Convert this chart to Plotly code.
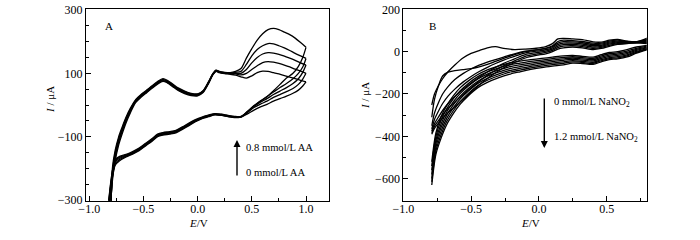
import plotly.graph_objects as go

# ---------------- Panel A : AA (0 ... 0.8 mmol/L) ----------------
A_labels = ["0", "0.2", "0.4", "0.6", "0.8"]
A_E_fwd = [-0.80, -0.785, -0.76, -0.73, -0.70, -0.66, -0.62, -0.57, -0.52, -0.47,
           -0.42, -0.37, -0.32, -0.28, -0.23, -0.18, -0.12, -0.06, 0.00, 0.05,
           0.10, 0.14, 0.17, 0.20, 0.25, 0.30, 0.35, 0.40, 0.45, 0.50,
           0.55, 0.60, 0.65, 0.70, 0.75, 0.80, 0.85, 0.90, 0.95, 1.00]
A_I_fwd_0 = [-300, -235, -175, -128, -95, -56, -24, 8, 25, 39,
             53, 66, 75, 70, 58, 46, 36, 30, 29, 39,
             67, 95, 106, 102, 99, 97, 94, 89, 85, 92,
             102, 107, 106, 102, 98, 93, 88, 83, 78, 73]
A_I_fwd_1 = [-305, -225, -165, -120, -88, -50, -19, 12, 28, 41,
             55, 68, 77, 72, 60, 48, 38, 32, 31, 41,
             69, 96, 107, 103, 100, 99, 98, 95, 100, 112,
             124, 134, 137, 135, 131, 126, 120, 113, 107, 100]
A_I_fwd_2 = [-310, -215, -158, -114, -83, -46, -16, 14, 30, 43,
             57, 70, 79, 74, 62, 50, 40, 33, 32, 42,
             70, 97, 108, 104, 101, 100, 100, 100, 112, 133,
             150, 161, 165, 164, 160, 154, 148, 141, 133, 126]
A_I_fwd_3 = [-315, -205, -150, -108, -78, -42, -13, 16, 32, 45,
             59, 72, 81, 76, 64, 52, 42, 35, 34, 44,
             72, 98, 109, 105, 102, 101, 103, 106, 128, 155,
             175, 187, 194, 193, 187, 180, 172, 163, 155, 147]
A_I_fwd_4 = [-320, -195, -142, -102, -73, -38, -10, 18, 34, 47,
             61, 74, 83, 78, 66, 54, 44, 37, 35, 45,
             73, 99, 110, 106, 103, 102, 106, 115, 148, 178,
             205, 225, 238, 242, 238, 230, 222, 211, 197, 182]

A_E_rev = [1.00, 0.97, 0.93, 0.88, 0.82, 0.76, 0.70, 0.64, 0.58, 0.52,
           0.46, 0.40, 0.34, 0.28, 0.22, 0.16, 0.10, 0.04, -0.02, -0.08,
           -0.14, -0.20, -0.26, -0.32, -0.37, -0.42, -0.48, -0.54, -0.60, -0.66,
           -0.72, -0.76, -0.79, -0.82]
A_I_rev_0 = [73, 60, 47, 37, 28, 20, 12, 2, -6, -16,
             -28, -38, -40, -37, -33, -31, -37, -43, -53, -65,
             -77, -88, -92, -95, -100, -114, -129, -144, -155, -164,
             -176, -190, -235, -320]
A_I_rev_1 = [100, 82, 65, 52, 42, 33, 24, 12, 3, -8,
             -24, -38, -39, -36, -32, -30, -36, -42, -51, -63,
             -75, -86, -90, -93, -98, -112, -127, -142, -153, -162,
             -172, -185, -230, -315]
A_I_rev_2 = [126, 103, 83, 68, 55, 44, 33, 20, 9, -5,
             -22, -37, -38, -35, -31, -29, -34, -41, -50, -61,
             -73, -84, -88, -91, -96, -110, -125, -140, -151, -160,
             -168, -180, -225, -310]
A_I_rev_3 = [147, 120, 100, 83, 68, 55, 41, 27, 13, -3,
             -21, -37, -37, -34, -30, -28, -33, -40, -48, -59,
             -71, -82, -86, -89, -94, -108, -123, -138, -149, -158,
             -165, -176, -220, -305]
A_I_rev_4 = [182, 150, 122, 100, 85, 65, 45, 26, 12, -2,
             -20, -36, -36, -33, -29, -27, -32, -38, -46, -57,
             -69, -80, -84, -87, -92, -106, -121, -136, -147, -156,
             -162, -172, -215, -300]

# ---------------- Panel B : NaNO2 (0 ... 1.2 mmol/L) ----------------
B_labels = ["0", "0.2", "0.4", "0.6", "0.8", "1.0", "1.2"]
B_E_fwd = [-0.79, -0.77, -0.74, -0.71, -0.67, -0.62, -0.56, -0.50, -0.44, -0.38,
           -0.32, -0.26, -0.18, -0.10, -0.02, 0.05, 0.10, 0.14, 0.18, 0.25,
           0.32, 0.40, 0.46, 0.52, 0.58, 0.65, 0.72, 0.80]
B_I_fwd_0 = [-252, -200, -160, -128, -95, -63, -30, -8, 5, 18,
             24, 15, 10, 12, 16, 24, 38, 60, 63, 60,
             57, 46, 45, 54, 58, 50, 47, 58]
B_I_fwd_1 = [-310, -225, -160, -115, -97, -90, -85, -80, -72, -60,
             -46, -32, -14, 0, 8, 16, 28, 48, 54, 52,
             48, 40, 40, 50, 54, 48, 46, 64]
B_I_fwd_2 = [-350, -290, -240, -200, -165, -132, -104, -82, -64, -50,
             -38, -26, -10, 2, 8, 15, 24, 40, 47, 46,
             42, 34, 35, 45, 50, 46, 45, 55]
B_I_fwd_3 = [-365, -320, -280, -245, -210, -177, -144, -117, -94, -74,
             -56, -40, -22, -6, 2, 9, 18, 33, 40, 40,
             36, 28, 30, 40, 46, 44, 44, 50]
B_I_fwd_4 = [-375, -340, -308, -278, -245, -212, -178, -148, -121, -96,
             -74, -55, -34, -14, -5, 3, 12, 26, 33, 34,
             30, 22, 25, 35, 42, 42, 43, 46]
B_I_fwd_5 = [-383, -352, -325, -298, -268, -238, -204, -171, -140, -112,
             -88, -67, -44, -22, -12, -4, 6, 19, 26, 28,
             24, 16, 20, 30, 38, 40, 42, 42]
B_I_fwd_6 = [-390, -362, -338, -314, -288, -260, -226, -191, -158, -127,
             -100, -76, -52, -30, -18, -10, 0, 12, 18, 22,
             18, 10, 15, 25, 34, 38, 41, 38]

B_E_rev = [0.80, 0.72, 0.65, 0.58, 0.52, 0.46, 0.40, 0.32, 0.25, 0.18,
           0.10, 0.02, -0.06, -0.14, -0.22, -0.30, -0.38, -0.45, -0.52, -0.58,
           -0.63, -0.68, -0.72, -0.76, -0.79]
B_I_rev_0 = [30, 22, 10, 0, -4, -14, -26, -22, -18, -20,
             -26, -32, -38, -45, -54, -68, -86, -108, -138, -170,
             -208, -255, -305, -385, -520]
B_I_rev_1 = [26, 16, 3, -6, -10, -20, -32, -28, -24, -27,
             -33, -40, -46, -54, -63, -78, -96, -118, -150, -184,
             -222, -270, -322, -402, -540]
B_I_rev_2 = [22, 11, -3, -12, -16, -26, -38, -34, -30, -34,
             -40, -47, -54, -62, -72, -88, -106, -129, -162, -197,
             -236, -285, -339, -419, -560]
B_I_rev_3 = [18, 6, -9, -18, -22, -32, -44, -40, -36, -41,
             -47, -54, -62, -71, -81, -97, -116, -140, -174, -210,
             -250, -300, -356, -436, -580]
B_I_rev_4 = [15, 1, -15, -24, -28, -38, -50, -46, -42, -48,
             -54, -61, -70, -79, -90, -106, -126, -150, -186, -223,
             -264, -315, -373, -453, -600]
B_I_rev_5 = [12, -3, -20, -29, -33, -43, -55, -51, -48, -55,
             -61, -68, -77, -87, -98, -115, -135, -160, -197, -236,
             -278, -330, -390, -470, -615]
B_I_rev_6 = [9, -7, -25, -34, -38, -48, -60, -56, -54, -62,
             -68, -75, -84, -95, -107, -124, -145, -170, -208, -248,
             -292, -345, -406, -486, -630]

A_fwd = [A_I_fwd_0, A_I_fwd_1, A_I_fwd_2, A_I_fwd_3, A_I_fwd_4]
A_rev = [A_I_rev_0, A_I_rev_1, A_I_rev_2, A_I_rev_3, A_I_rev_4]
B_fwd = [B_I_fwd_0, B_I_fwd_1, B_I_fwd_2, B_I_fwd_3, B_I_fwd_4, B_I_fwd_5, B_I_fwd_6]
B_rev = [B_I_rev_0, B_I_rev_1, B_I_rev_2, B_I_rev_3, B_I_rev_4, B_I_rev_5, B_I_rev_6]

FONT = "Liberation Serif, Times New Roman, serif"
FS = 12
line_style = dict(color="black", width=1.3, shape="spline", smoothing=0.8)

fig = go.Figure()
for lab, f, r in zip(A_labels, A_fwd, A_rev):
    fig.add_trace(go.Scatter(x=A_E_fwd, y=f, mode="lines", line=line_style,
                             name=lab + " mmol/L AA", showlegend=False, xaxis="x", yaxis="y"))
    fig.add_trace(go.Scatter(x=A_E_rev, y=r, mode="lines", line=line_style,
                             name=lab + " mmol/L AA", showlegend=False, xaxis="x", yaxis="y"))
for lab, f, r in zip(B_labels, B_fwd, B_rev):
    fig.add_trace(go.Scatter(x=B_E_fwd, y=f, mode="lines", line=line_style,
                             name=lab + " mmol/L NaNO2", showlegend=False, xaxis="x2", yaxis="y2"))
    fig.add_trace(go.Scatter(x=B_E_rev, y=r, mode="lines", line=line_style,
                             name=lab + " mmol/L NaNO2", showlegend=False, xaxis="x2", yaxis="y2"))

W, H = 700, 240
def px(xp):
    return xp / W
def py(yp):
    return (H - yp) / H

axis_common = dict(showline=True, linecolor="black", linewidth=1, mirror=True,
                   ticks="inside", ticklen=5, tickwidth=1, tickcolor="black",
                   showgrid=False, zeroline=False, automargin=False,
                   tickfont=dict(family=FONT, size=FS, color="black"))

fig.update_layout(
    width=W, height=H,
    margin=dict(l=0, r=0, t=0, b=0, autoexpand=False),
    paper_bgcolor="white", plot_bgcolor="white",
    font=dict(family=FONT, size=FS, color="black"),
    xaxis=dict(domain=[px(86), px(329.3)], range=[-1.03, 1.215], anchor="y",
               tick0=-1.0, dtick=0.5, tickformat=".1f", ticklabelstandoff=-3,
               minor=dict(dtick=0.25, tick0=-1.0, ticks="inside", ticklen=3, tickcolor="black"),
               **axis_common),
    yaxis=dict(domain=[py(200.7), py(9.3)], range=[-302, 302], anchor="x",
               tick0=-300, dtick=200,
               minor=dict(dtick=50, tick0=-300, ticks="inside", ticklen=3, tickcolor="black"),
               **axis_common),
    xaxis2=dict(domain=[px(403.3), px(646.7)], range=[-1.0, 0.795], anchor="y2",
                tick0=-1.0, dtick=0.5, tickformat=".1f", ticklabelstandoff=-3,
                minor=dict(dtick=0.25, tick0=-1.0, ticks="inside", ticklen=3, tickcolor="black"),
                **axis_common),
    yaxis2=dict(domain=[py(200.7), py(9.3)], range=[-704, 200], anchor="x2",
                tick0=-600, dtick=200,
                minor=dict(dtick=100, tick0=-600, ticks="inside", ticklen=3, tickcolor="black"),
                **axis_common),
)

def txt(x, y, s, xanchor="left", angle=0, size=10.6):
    fig.add_annotation(x=px(x), y=py(y), xref="paper", yref="paper", text=s,
                       showarrow=False, xanchor=xanchor, yanchor="middle",
                       textangle=angle, font=dict(family=FONT, size=size, color="black"))

# panel labels
txt(103, 26, "A", size=11)
txt(427, 26, "B", size=11)
# axis titles
txt(50, 100, "<i>I</i> / μA", xanchor="center", angle=-90, size=11)
txt(365, 96, "<i>I</i> / μA", xanchor="center", angle=-90, size=11)
txt(198.5, 223, "<i>E</i>/V", xanchor="center", size=11)
txt(530, 223, "<i>E</i>/V", xanchor="center", size=11)
# concentration labels
txt(243.5, 147, "0.8 mmol/L AA")
txt(243.5, 172, "0 mmol/L AA")
txt(552, 102, "0 mmol/L NaNO<sub>2</sub>")
txt(552, 137, "1.2 mmol/L NaNO<sub>2</sub>")

# arrows (tail offset given in pixels)
fig.add_annotation(x=px(237), y=py(140), xref="paper", yref="paper",
                   ax=0, ay=37, showarrow=True, arrowhead=2, arrowsize=1,
                   arrowwidth=1.4, arrowcolor="black", text="")
fig.add_annotation(x=px(544.3), y=py(148), xref="paper", yref="paper",
                   ax=0, ay=-51, showarrow=True, arrowhead=2, arrowsize=1,
                   arrowwidth=1.4, arrowcolor="black", text="")

# remove the default 8px body margin so the 700x240 figure fills the window
fig.write_html("out.html", config={"displayModeBar": False},
               post_script="document.body.style.margin='0px';")
